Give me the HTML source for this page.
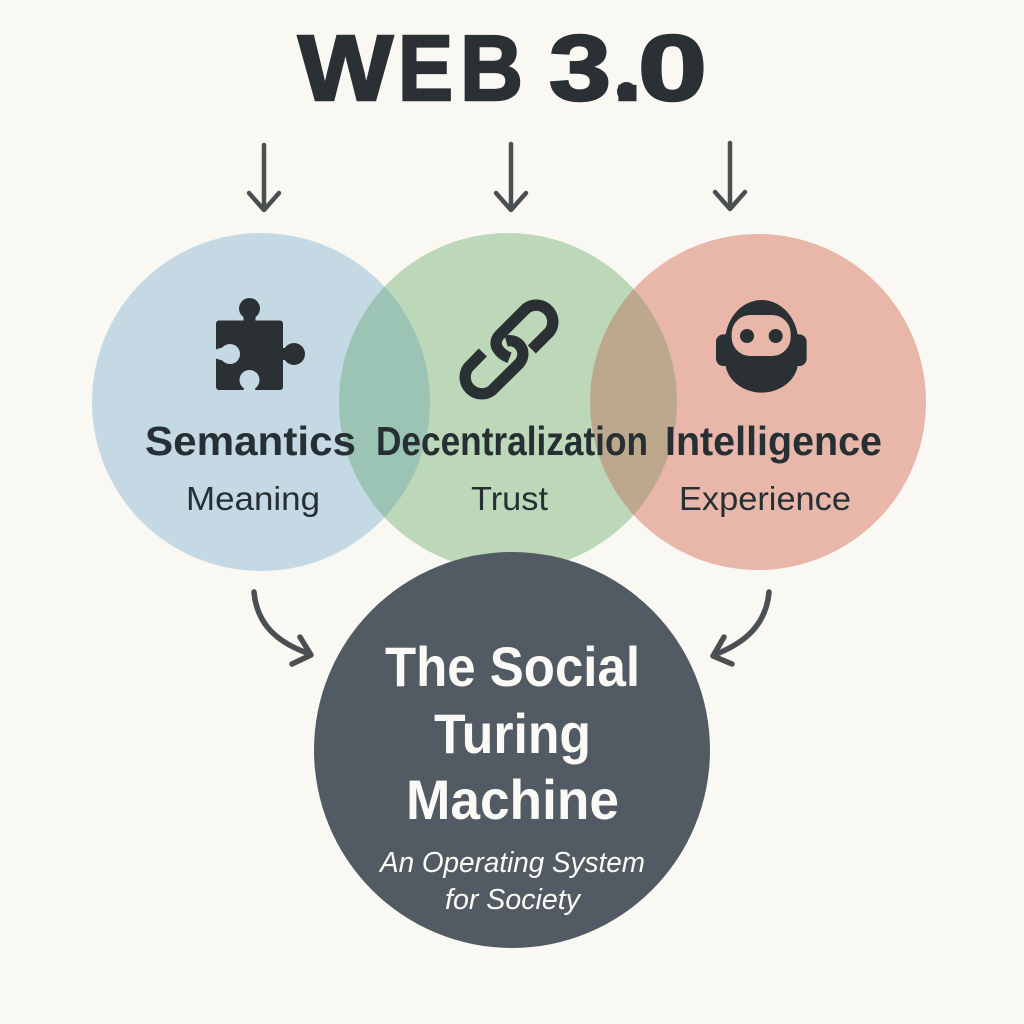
<!DOCTYPE html>
<html><head><meta charset="utf-8"><style>html,body{margin:0;padding:0;background:#faf8f3}svg{display:block}text{font-family:"Liberation Sans",sans-serif}</style></head>
<body>
<svg width="1024" height="1024" viewBox="0 0 1024 1024" xmlns="http://www.w3.org/2000/svg">
<defs>
<clipPath id="cb"><circle cx="261" cy="402" r="169"/></clipPath>
<clipPath id="cr"><circle cx="758" cy="402" r="168"/></clipPath>
</defs>
<rect width="1024" height="1024" fill="#faf8f3"/>
<g font-size="93" font-weight="700" fill="#2a3033" stroke="#2a3033" stroke-width="2.500">
<text x="298" y="100" textLength="95" lengthAdjust="spacingAndGlyphs">W</text>
<text x="398" y="100" textLength="55" lengthAdjust="spacingAndGlyphs">E</text>
<text x="460" y="100" textLength="63" lengthAdjust="spacingAndGlyphs">B</text>
<text x="549" y="100" textLength="62" lengthAdjust="spacingAndGlyphs">3</text>
<text x="612.500" y="100" textLength="30" lengthAdjust="spacingAndGlyphs">.</text>
<text x="638" y="100" textLength="69" lengthAdjust="spacingAndGlyphs">0</text>
</g>
<circle cx="626.500" cy="91.500" r="9.500" fill="#2a3033"/>
<g fill="none" stroke="#4a4f52" stroke-width="4.500" stroke-linecap="round" stroke-linejoin="round">
<path d="M264 145V209M249 193L264 210L279 193"/>
<path d="M511 144V209M496 193L511 210L526 193"/>
<path d="M730 143V208M715 192L730 209L745 192"/>
<path d="M254 592C257 625 278 643 310 654" stroke-width="5.500"/>
<path d="M300 637L311 655L292 664" stroke-width="5.500"/>
<path d="M769 592C766 625 745 643 714 655" stroke-width="5.500"/>
<path d="M724 637L713 656L732 664" stroke-width="5.500"/>
</g>
<circle cx="261" cy="402" r="169" fill="#c4d9e3"/>
<circle cx="758" cy="402" r="168" fill="#e9b7aa"/>
<circle cx="508" cy="402" r="169" fill="#bdd8b9"/>
<circle cx="508" cy="402" r="169" fill="#9cc4b4" clip-path="url(#cb)"/>
<circle cx="508" cy="402" r="169" fill="#bda88e" clip-path="url(#cr)"/>
<circle cx="512" cy="750" r="198" fill="#525b63"/>
<!-- puzzle -->
<g fill="#2a3033">
<rect x="216" y="320.500" width="67" height="69.500" rx="3"/>
<circle cx="249.500" cy="308.500" r="10.500"/>
<rect x="243.500" y="312" width="12" height="10"/>
<circle cx="294" cy="354" r="11"/>
<rect x="281" y="348" width="9" height="12"/>
</g>
<g fill="#c4d9e3">
<circle cx="230" cy="354" r="10"/>
<path d="M214 350L224 347V361L214 358Z"/>
<circle cx="249.500" cy="380" r="10"/>
<path d="M243 392L245 385H254L256 392Z"/>
</g>
<!-- link -->
<g transform="translate(454.500 294.500) scale(.3333)" fill="none" stroke="#2a3033" stroke-width="34">
<path d="M165 190C135 178 110 150 135 122L215 42A50 50 0 0 1 285 112L232 165"/>
<path d="M155 140C190 130 222 170 195 206L112 288A50 50 0 0 1 42 218L85 174"/>
</g>
<!-- robot -->
<g transform="translate(700 280) scale(.3333)" fill="#2a3033">
<rect x="48" y="163" width="272" height="95" rx="22"/>
<path d="M75 190C75 110 130 60 185 60C240 60 295 110 295 190V240C295 300 240 338 185 338C130 338 75 300 75 240Z"/>
<rect x="95" y="105" width="177" height="123" rx="56" fill="#e9b7aa"/>
<circle cx="141" cy="168" r="21"/>
<circle cx="227" cy="168" r="21"/>
</g>
<g fill="#263034">
<text x="145" y="455" font-size="41" font-weight="700" textLength="211" lengthAdjust="spacingAndGlyphs">Semantics</text>
<text x="376" y="455" font-size="41" font-weight="700" textLength="272" lengthAdjust="spacingAndGlyphs">Decentralization</text>
<text x="665" y="455" font-size="41" font-weight="700" textLength="217" lengthAdjust="spacingAndGlyphs">Intelligence</text>
<text x="186" y="510" font-size="33" textLength="134" lengthAdjust="spacingAndGlyphs">Meaning</text>
<text x="471" y="510" font-size="33" textLength="77" lengthAdjust="spacingAndGlyphs">Trust</text>
<text x="679" y="510" font-size="33" textLength="172" lengthAdjust="spacingAndGlyphs">Experience</text>
</g>
<g fill="#fbfaf6">
<text x="385" y="686" font-size="56" font-weight="700" textLength="255" lengthAdjust="spacingAndGlyphs">The Social</text>
<text x="434" y="753" font-size="56" font-weight="700" textLength="157" lengthAdjust="spacingAndGlyphs">Turing</text>
<text x="406" y="819" font-size="56" font-weight="700" textLength="213" lengthAdjust="spacingAndGlyphs">Machine</text>
<text x="380" y="872" font-size="29" font-style="italic" textLength="265" lengthAdjust="spacingAndGlyphs">An Operating System</text>
<text x="445" y="909" font-size="29" font-style="italic" textLength="135" lengthAdjust="spacingAndGlyphs">for Society</text>
</g>
</svg>
</body></html>
